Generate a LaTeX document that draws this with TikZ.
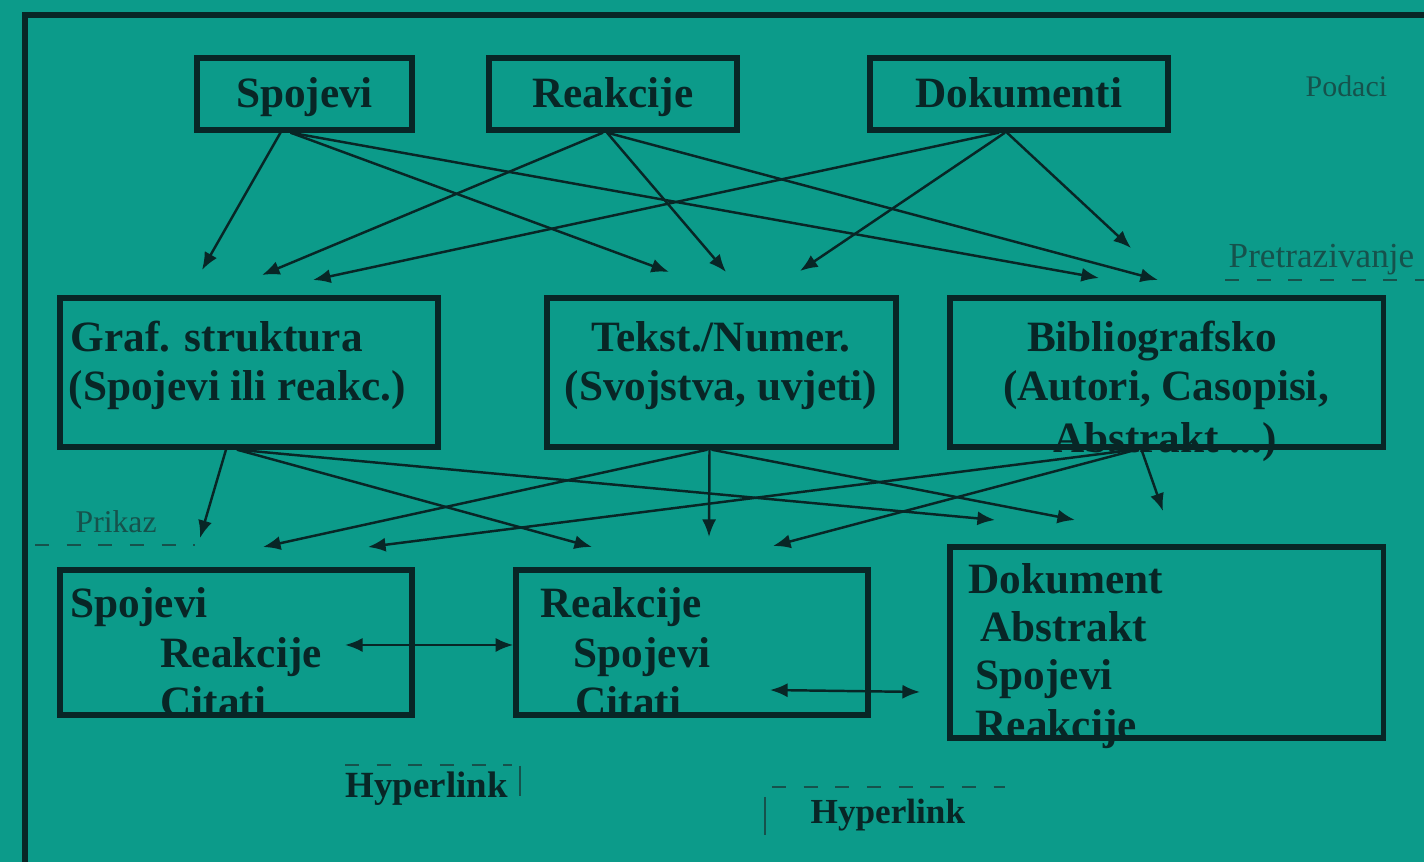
\documentclass[tikz,border=0pt]{standalone}
\usepackage{fontspec}
\setmainfont{Liberation Serif}
\usepackage{xcolor}
\usetikzlibrary{arrows.meta, calc}

\definecolor{tealbg}{RGB}{12,155,138}
\definecolor{inkdark}{RGB}{8,38,38}
\definecolor{inksoft}{RGB}{22,82,76}

\begin{document}
\begin{tikzpicture}[x=0.01cm, y=-0.01cm,
	box/.style={draw=inkdark, line width=1.5pt, inner sep=0pt},
	boxtext/.style={inner sep=0pt, text=inkdark, font=\bfseries\fontsize{12.3}{15}\selectfont},
	txt/.style={boxtext, anchor=base west},
	ctxt/.style={boxtext, anchor=base},
	lbl/.style={anchor=base west, inner sep=0pt, text=inksoft},
	arr/.style={inkdark, line width=0.7pt, -{Latex[length=5pt,width=4pt]}},
	link/.style={inkdark, line width=0.7pt, {Latex[length=5pt,width=4pt]}-{Latex[length=5pt,width=4pt]}},
	dashln/.style={inksoft, line width=0.7pt, dash pattern=on 4pt off 5pt}]
	
	\useasboundingbox (0,0) rectangle (1424,862);
	\fill [tealbg] (0,0) rectangle (1424,862);
	\clip (0,0) rectangle (1424,862);
	\draw [inkdark, line width=1.8pt] (25,15) rectangle (1460,900);
	
	% podaci
	\node (spo) [box, minimum width=2.15cm, minimum height=0.72cm] at (304.5,94) {};
	\node (rea) [box, minimum width=2.48cm, minimum height=0.72cm] at (613,94) {};
	\node (dok) [box, minimum width=2.98cm, minimum height=0.72cm] at (1019,94) {};
	\node (spo-t) [ctxt] at (spo.center |- 0,108) {Spojevi};
	\node (rea-t) [ctxt] at (rea.center |- 0,108) {Reakcije};
	\node (dok-t) [ctxt] at (dok.center |- 0,108) {Dokumenti};
	\node (podaci) [lbl, font=\fontsize{8.5}{10}\selectfont] at (1305,97) {Podaci};
	
	% pretrazivanje
	\node (graf1) [txt] at (70,352) {Graf. struktura};
	\node (graf2) [txt] at (68,401) {(Spojevi ili reakc.)};
	\node (tek1) [ctxt] at (721,352) {Tekst./Numer.};
	\node (tek2) [ctxt] at (721,401) {(Svojstva, uvjeti)};
	\node (bib1) [ctxt] at (1152,352) {Bibliografsko};
	\node (bib2) [ctxt] at (1166,401) {(Autori, Casopisi,};
	\node (bib3) [ctxt] at (1165,453) {Abstrakt ...)};
	\node (graf) [box, minimum width=3.78cm, minimum height=1.49cm] at (249,372.5) {};
	\node (tek) [box, minimum width=3.49cm, minimum height=1.49cm] at (721.5,372.5) {};
	\node (bib) [box, minimum width=4.33cm, minimum height=1.49cm] at (1166.5,372.5) {};
	\node (pretr) [lbl, font=\fontsize{10}{12}\selectfont] at (1228,268) {Pretrazivanje};
	\coordinate (pretr-a) at (1225,280);
	\coordinate (pretr-b) at (1424,280);
	\draw [dashln] (pretr-a) -- (pretr-b);
	
	% prikaz
	\node (s1) [txt] at (70,618) {Spojevi};
	\node (s2) [txt] at (160,668) {Reakcije};
	\node (s3) [txt] at (160,717) {Citati};
	\node (r1) [txt] at (540,618) {Reakcije};
	\node (r2) [txt] at (573,668) {Spojevi};
	\node (r3) [txt] at (575,717) {Citati};
	\node (d1) [txt] at (968,594) {Dokument};
	\node (d2) [txt] at (980,642) {Abstrakt};
	\node (d3) [txt] at (975,690) {Spojevi};
	\node (d4) [txt] at (975,740) {Reakcije};
	\node (pspo) [box, minimum width=3.52cm, minimum height=1.45cm] at (236,642.5) {};
	\node (prea) [box, minimum width=3.52cm, minimum height=1.45cm] at (692,642.5) {};
	\node (pdok) [box, minimum width=4.33cm, minimum height=1.91cm] at (1166.5,642.5) {};
	\node (prikaz) [lbl, font=\fontsize{9}{11}\selectfont] at (75,533) {Prikaz};
	\coordinate (prikaz-a) at (35,545);
	\coordinate (prikaz-b) at (195,545);
	\draw [dashln] (prikaz-a) -- (prikaz-b);
	
	% ulazne tocke strelica
	\coordinate (a1) at (202,270);
	\coordinate (a2) at (262,275);
	\coordinate (a3) at (313,280);
	\coordinate (b1) at (669,272);
	\coordinate (b2) at (726,272);
	\coordinate (b3) at (800,271);
	\coordinate (c1) at (1099,278);
	\coordinate (c2) at (1158,280);
	\coordinate (c3) at (1131,248);
	\coordinate (e1) at (200,538);
	\coordinate (e2) at (263,547);
	\coordinate (e3) at (368,547);
	\coordinate (f1) at (592,547);
	\coordinate (f2) at (709,537);
	\coordinate (f3) at (773,546);
	\coordinate (g1) at (995,520);
	\coordinate (g2) at (1075,520);
	\coordinate (g3) at (1163,511);
	
	\draw [arr] ($(spo.south)+(-24,0)$) -- (a1);
	\draw [arr] ($(spo.south)+(-14,0)$) -- (b1);
	\draw [arr] ($(spo.south)+(-14,0)$) -- (c1);
	\draw [arr] ($(rea.south)+(-10,0)$) -- (a2);
	\draw [arr] ($(rea.south)+(-6,0)$) -- (b2);
	\draw [arr] ($(rea.south)+(-6,0)$) -- (c2);
	\draw [arr] ($(dok.south)+(-20,0)$) -- (a3);
	\draw [arr] ($(dok.south)+(-14,0)$) -- (b3);
	\draw [arr] ($(dok.south)+(-12,0)$) -- (c3);
	
	\draw [arr] ($(graf.south)+(-23,0)$) -- (e1);
	\draw [arr] ($(graf.south)+(-12,0)$) -- (f1);
	\draw [arr] ($(graf.south)+(-12,0)$) -- (g1);
	\draw [arr] ($(tek.south)+(-14,0)$) -- (e2);
	\draw [arr] ($(tek.south)+(-12,0)$) -- (f2);
	\draw [arr] ($(tek.south)+(-10,0)$) -- (g2);
	\draw [arr] ($(bib.south)+(-32,0)$) -- (e3);
	\draw [arr] ($(bib.south)+(-30,0)$) -- (f3);
	\draw [arr] ($(bib.south)+(-25,0)$) -- (g3);
	
	% hyperlink
	\coordinate (hl1) at (345,645);
	\draw [link] (hl1) -- (hl1 -| prea.west);
	\coordinate (hl2a) at (770,690);
	\coordinate (hl2b) at (920,692);
	\draw [link] (hl2a) -- (hl2b);
	
	\node (hyp1) [lbl, text=inkdark, font=\bfseries\fontsize{10.5}{12}\selectfont] at (345,798) {Hyperlink};
	\coordinate (hyp1-a) at (345,765);
	\coordinate (hyp1-b) at (512,765);
	\coordinate (hyp1-c) at (520,766);
	\coordinate (hyp1-d) at (520,796);
	\draw [dashln] (hyp1-a) -- (hyp1-b);
	\draw [inksoft, line width=0.8pt] (hyp1-c) -- (hyp1-d);
	
	\node (hyp2) [lbl, text=inkdark, font=\bfseries\fontsize{10}{12}\selectfont] at (810,824) {Hyperlink};
	\coordinate (hyp2-a) at (772,787);
	\coordinate (hyp2-b) at (1005,787);
	\coordinate (hyp2-c) at (765,797);
	\coordinate (hyp2-d) at (765,835);
	\draw [dashln] (hyp2-a) -- (hyp2-b);
	\draw [inksoft, line width=0.8pt] (hyp2-c) -- (hyp2-d);
\end{tikzpicture}
\end{document}
